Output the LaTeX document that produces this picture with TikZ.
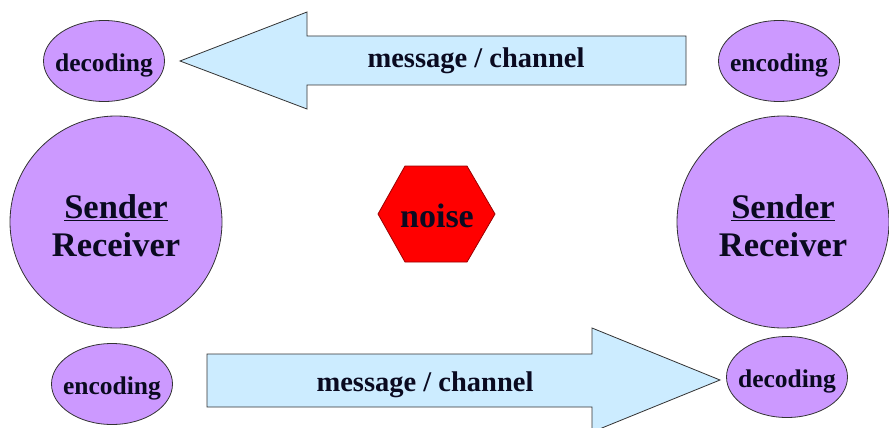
\documentclass[tikz,border=0pt]{standalone}
\usepackage{fontspec}
\setmainfont{Liberation Serif}
\usetikzlibrary{shapes.geometric}
\definecolor{lav}{HTML}{CC99FF}
\definecolor{sky}{HTML}{CCECFF}
\definecolor{ink}{HTML}{0A0A20}
\begin{document}
\begin{tikzpicture}[x=1pt,y=-1pt,
  oval/.style={ellipse, draw=black!80, fill=lav, line width=0.8pt, minimum width=121pt, minimum height=81pt, inner sep=0pt},
  ovaltxt/.style={text=ink, font=\bfseries\fontsize{25.5}{27}\selectfont},
  big/.style={circle, draw=black!80, fill=lav, line width=0.8pt, minimum size=212pt, inner sep=0pt},
  bigtxt/.style={text=ink, align=center, font=\bfseries\fontsize{34.5}{38}\selectfont},
  blockarrow/.style={draw=black!80, fill=sky, line width=0.8pt},
  lbl/.style={text=ink, font=\bfseries\fontsize{28.5}{30}\selectfont}
]
\useasboundingbox[fill=white] (0,0) rectangle (889,428);
% top arrow (right to left)
\draw[blockarrow] (180,61) -- (307,12) -- (307,36) -- (686,36) -- (686,85) -- (307,85) -- (307,109) -- cycle;
\node[lbl] (m1) at (476,61) {message / channel};
% bottom arrow (left to right)
\draw[blockarrow] (207,354) -- (592,354) -- (592,328) -- (720,380) -- (592,432) -- (592,407) -- (207,407) -- cycle;
\node[lbl] (m2) at (425,385) {message / channel};
% ovals
\node[oval] (d1) at (104,61) {};
\node[oval] (e1) at (779,61) {};
\node[oval] (e2) at (112,384) {};
\node[oval] (d2) at (787,377) {};
\node[ovaltxt] (d1t) at (104,65) {decoding};
\node[ovaltxt] (e1t) at (779,65) {encoding};
\node[ovaltxt] (e2t) at (112,388) {encoding};
\node[ovaltxt] (d2t) at (787,381) {decoding};
% big circles
\node[big] (s1) at (116,222) {};
\node[big] (s2) at (783,222) {};
\node[bigtxt] (t1) at (116,226) {\underline{Sender}\\Receiver};
\node[bigtxt] (t2) at (783,226) {\underline{Sender}\\Receiver};
% noise hexagon
\draw[fill=red, draw=red!60!black, line width=0.8pt] (378,214) -- (405,166) -- (467,166) -- (495,214) -- (467,262) -- (405,262) -- cycle;
\node[text=ink, font=\bfseries\fontsize{34}{36}\selectfont] (n) at (437,216) {noise};
\end{tikzpicture}
\end{document}
